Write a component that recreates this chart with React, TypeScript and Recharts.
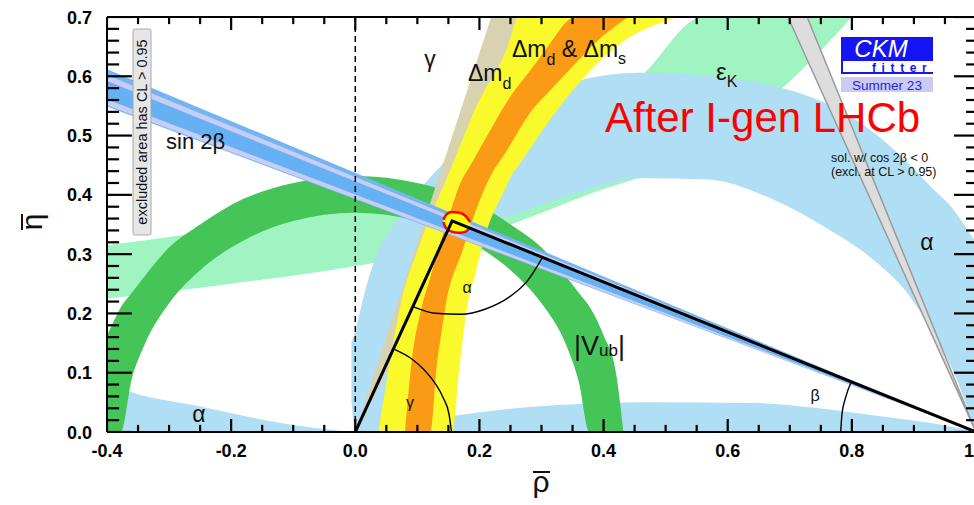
import { Area, ComposedChart, Line, ReferenceLine, XAxis, YAxis } from "recharts";

type Row = [number, number, number];
type Pt = [number, number];

// each band row: [rho, eta low, eta high]
const epsKBand: Row[] = [
  [-0.4, 0.225, 0.315],
  [-0.2, 0.25, 0.345],
  [0.0, 0.28, 0.385],
  [0.1, 0.3, 0.41],
  [0.2, 0.33, 0.45],
  [0.3, 0.37, 0.5],
  [0.4, 0.41, 0.555],
  [0.46, 0.43, 0.6],
  [0.56, 0.487, 0.7],
  [0.6, 0.51, 0.7],
  [0.684, 0.576, 0.7],
  [0.765, 0.66, 0.7],
  [0.8, 0.7, 0.7],
];

const alphaArc: Row[] = [
  [-0.006, 0.05, 0.15],
  [0.0, 0.0, 0.17],
  [0.015, 0.0, 0.235],
  [0.035, 0.0, 0.3],
  [0.05, 0.06, 0.33],
  [0.07, 0.14, 0.36],
  [0.1, 0.21, 0.405],
  [0.13, 0.27, 0.44],
  [0.2, 0.34, 0.51],
  [0.28, 0.375, 0.56],
  [0.35, 0.4, 0.59],
  [0.46, 0.428, 0.606],
  [0.567, 0.426, 0.601],
  [0.673, 0.392, 0.584],
  [0.754, 0.347, 0.556],
  [0.834, 0.291, 0.506],
  [0.889, 0.235, 0.455],
  [0.931, 0.167, 0.41],
  [0.96, 0.11, 0.38],
  [0.99, 0.03, 0.335],
  [1.0, 0.0, 0.32],
];

const alphaLow: Row[] = [
  [-0.4, 0, 0.085],
  [-0.38, 0, 0.075],
  [-0.25, 0, 0.043],
  [-0.1, 0, 0.012],
  [-0.03, 0, 0.003],
  [0.0, 0, 0],
  [0.05, 0, 0.01],
  [0.15, 0, 0.026],
  [0.28, 0, 0.042],
  [0.47, 0, 0.05],
  [0.64, 0, 0.049],
  [0.74, 0, 0.041],
  [0.85, 0, 0.026],
  [0.96, 0, 0.009],
  [1.0, 0, 0],
];

const vubRing: Row[] = [
  [-0.4, 0, 0.163],
  [-0.383, 0, 0.2],
  [-0.378, 0, 0.21],
  [-0.36, 0.09, 0.235],
  [-0.34, 0.146, 0.262],
  [-0.3, 0.217, 0.311],
  [-0.25, 0.273, 0.35],
  [-0.2, 0.311, 0.383],
  [-0.1, 0.356, 0.42],
  [0.0, 0.37, 0.432],
  [0.1, 0.356, 0.42],
  [0.2, 0.311, 0.383],
  [0.25, 0.273, 0.35],
  [0.3, 0.217, 0.311],
  [0.34, 0.146, 0.262],
  [0.36, 0.085, 0.235],
  [0.377, 0, 0.212],
  [0.4, 0, 0.163],
  [0.42, 0, 0.1],
  [0.432, 0, 0],
];

const gammaWedge: Row[] = [
  [0.0, 0, 0],
  [0.219, 0.438, 0.7],
  [0.35, 0.7, 0.7],
];

const dmdBand: Row[] = [
  [0.037, 0, 0],
  [0.056, 0, 0.12],
  [0.072, 0, 0.21],
  [0.105, 0, 0.32],
  [0.148, 0, 0.43],
  [0.156, 0, 0.45],
  [0.169, 0.12, 0.484],
  [0.18, 0.21, 0.512],
  [0.195, 0.273, 0.55],
  [0.206, 0.32, 0.572],
  [0.245, 0.418, 0.65],
  [0.25, 0.43, 0.665],
  [0.262, 0.448, 0.7],
  [0.33, 0.55, 0.7],
  [0.42, 0.65, 0.7],
  [0.52, 0.7, 0.7],
];

const dmdDmsBand: Row[] = [
  [0.08, 0, 0],
  [0.091, 0, 0.12],
  [0.107, 0, 0.21],
  [0.121, 0, 0.261],
  [0.132, 0.12, 0.302],
  [0.137, 0.155, 0.32],
  [0.145, 0.21, 0.344],
  [0.174, 0.31, 0.43],
  [0.177, 0.32, 0.435],
  [0.217, 0.43, 0.508],
  [0.24, 0.468, 0.55],
  [0.29, 0.55, 0.621],
  [0.31, 0.572, 0.65],
  [0.355, 0.622, 0.7],
  [0.38, 0.65, 0.7],
  [0.44, 0.7, 0.7],
];

const sin2bOuter: Row[] = [
  [-0.4, 0.549, 0.612],
  [1.0, 0, 0],
];
const sin2bStripe: Row[] = [
  [-0.4, 0.551, 0.602],
  [1.0, 0, 0],
];
const sin2bInner: Row[] = [
  [-0.4, 0.561, 0.592],
  [1.0, 0, 0],
];

const cos2bNegative: Row[] = [
  [0.697, 0.7, 0.7],
  [0.728, 0.628, 0.7],
  [1.0, 0, 0],
];

const fitRegion: Row[] = [
  [0.142, 0.354, 0.358],
  [0.146, 0.344, 0.366],
  [0.155, 0.338, 0.371],
  [0.168, 0.336, 0.37],
  [0.178, 0.338, 0.364],
  [0.185, 0.346, 0.354],
];

const triangle: Pt[] = [
  [0.0, 0.0],
  [0.156, 0.356],
  [1.0, 0.0],
];

const alphaAngle: Pt[] = [
  [0.094, 0.211],
  [0.1286, 0.2004],
  [0.1698, 0.1986],
  [0.21, 0.2075],
  [0.2466, 0.2266],
  [0.277, 0.2544],
  [0.301, 0.2933],
];

const gammaAngle: Pt[] = [
  [0.064, 0.139],
  [0.09, 0.124],
  [0.11, 0.106],
  [0.128, 0.083],
  [0.142, 0.057],
  [0.151, 0.03],
  [0.155, 0.0],
];

const betaAngle: Pt[] = [
  [0.782, 0.0],
  [0.7841, 0.0303],
  [0.7894, 0.0564],
  [0.7992, 0.0848],
];

const xMinor = [
  -0.35, -0.3, -0.25, -0.15, -0.1, -0.05, 0.05, 0.1, 0.15, 0.25, 0.3, 0.35, 0.45, 0.5, 0.55,
  0.65, 0.7, 0.75, 0.85, 0.9, 0.95,
];
const xMajor = [-0.4, -0.2, 0, 0.2, 0.4, 0.6, 0.8, 1.0];
const xMajorLabels = ["-0.4", "-0.2", "0.0", "0.2", "0.4", "0.6", "0.8", "1"];

const yMinor = [
  0.02, 0.04, 0.06, 0.08, 0.12, 0.14, 0.16, 0.18, 0.22, 0.24, 0.26, 0.28, 0.32, 0.34, 0.36,
  0.38, 0.42, 0.44, 0.46, 0.48, 0.52, 0.54, 0.56, 0.58, 0.62, 0.64, 0.66, 0.68,
];
const yMajor = [0, 0.1, 0.2, 0.3, 0.4, 0.5, 0.6, 0.7];
const yMajorLabels = ["0.0", "0.1", "0.2", "0.3", "0.4", "0.5", "0.6", "0.7"];

const X_MIN = -0.4;
const X_MAX = 1.0;
const Y_MIN = 0;
const Y_MAX = 0.7;

const toBand = (rows: Row[]) => rows.map(([x, lo, hi]) => ({ x, r: [lo, hi] }));
const toPts = (rows: Pt[]) => rows.map(([x, y]) => ({ x, y }));

// one two-point segment per frame tick, in axis units
// (vertical 13/7 px ~ 0.022/0.012; horizontal 25/12 px ~ 0.04/0.0195, right 22/10 px)
type Seg = { x: number; y: number }[];
const vSegs = (xs: number[], y0: number, len: number): Seg[] =>
  xs.map((x) => [
    { x, y: y0 },
    { x, y: y0 + len },
  ]);
const hSegs = (ys: number[], x0: number, len: number): Seg[] =>
  ys.map((y) => [
    { x: x0, y },
    { x: x0 + len, y },
  ]);
const frameTicks: Seg[] = [
  ...vSegs(xMajor, Y_MIN, 0.022),
  ...vSegs(xMinor, Y_MIN, 0.012),
  ...vSegs(xMajor, Y_MAX, -0.022),
  ...vSegs(xMinor, Y_MAX, -0.012),
  ...hSegs(yMajor, X_MIN, 0.04),
  ...hSegs(yMinor, X_MIN, 0.0195),
  ...hSegs(yMajor, X_MAX, -0.0355),
  ...hSegs(yMinor, X_MAX, -0.016),
];

const majorIndex = (v: number, majors: number[]) =>
  majors.findIndex((m) => Math.abs(m - v) < 1e-6);

const FONT = "'Liberation Sans', Arial, sans-serif";

function BottomLabel(props: any) {
  const { x, y, payload } = props;
  const i = majorIndex(payload.value, xMajor);
  if (i < 0) return <g />;
  const last = i === xMajor.length - 1;
  return (
    <text
      x={last ? x - 7 : x}
      y={y + 25}
      textAnchor="middle"
      fontSize={18}
      fontWeight="bold"
      fill="#000"
      fontFamily={FONT}
    >
      {xMajorLabels[i]}
    </text>
  );
}

function LeftLabel(props: any) {
  const { x, y, payload } = props;
  const i = majorIndex(payload.value, yMajor);
  if (i < 0) return <g />;
  return (
    <text x={x - 15} y={y + 6.5} textAnchor="end" fontSize={18} fontWeight="bold" fill="#000" fontFamily={FONT}>
      {yMajorLabels[i]}
    </text>
  );
}

function band(key: string, rows: Row[], fill: string, curve: "monotone" | "linear" = "monotone", stroke = "none", strokeWidth = 0) {
  return (
    <Area
      key={key}
      data={toBand(rows)}
      dataKey="r"
      type={curve}
      fill={fill}
      fillOpacity={1}
      stroke={stroke}
      strokeWidth={strokeWidth}
      isAnimationActive={false}
      dot={false}
      activeDot={false}
    />
  );
}

function Labels() {
  return (
    <svg
      width={974}
      height={505}
      style={{ position: "absolute", left: 0, top: 0, pointerEvents: "none" }}
      fontFamily={FONT}
    >
      <rect x={133} y={29} width={18} height={206} rx={2} fill="#e6e6e6" stroke="#a8a8a8" />
      <text transform="translate(147,132) rotate(-90)" textAnchor="middle" fontSize={14.5} fill="#111">
        excluded area has CL &gt; 0.95
      </text>

      <text x={430} y={67} textAnchor="middle" fontSize={23} fill="#111">γ</text>
      <text x={468} y={81} fontSize={23} fill="#111">
        Δm<tspan dy={8} fontSize={16}>d</tspan>
      </text>
      <text x={512} y={57} fontSize={23} fill="#111">
        Δm<tspan dy={8} fontSize={16}>d</tspan>
        <tspan dy={-8}> &amp; Δm</tspan>
        <tspan dy={7} fontSize={16}>s</tspan>
      </text>
      <text x={716} y={80} fontSize={24} fill="#111">
        ε<tspan dy={7} fontSize={16}>K</tspan>
      </text>
      <text x={166} y={149} fontSize={22} fill="#111">sin 2β</text>
      <text x={199} y={422} textAnchor="middle" fontSize={23} fill="#111">α</text>
      <text x={927} y={250} textAnchor="middle" fontSize={23} fill="#111">α</text>
      <text x={467} y={293} textAnchor="middle" fontSize={16} fill="#111">α</text>
      <text x={410} y={408} textAnchor="middle" fontSize={16} fill="#111">γ</text>
      <text x={815} y={401} textAnchor="middle" fontSize={16} fill="#111">β</text>
      <text x={574} y={355} fontSize={27} fill="#111">
        |V<tspan dy={1} fontSize={17}>ub</tspan>
        <tspan dy={-1} fontSize={27}>|</tspan>
      </text>

      <text x={605} y={132} fontSize={42} fill="#ff0000">After I-gen LHCb</text>

      <text x={831} y={162} fontSize={12.5} fill="#111">sol. w/ cos 2β &lt; 0</text>
      <text x={831} y={176} fontSize={12.5} fill="#111">(excl. at CL &gt; 0.95)</text>

      <rect x={841} y={37} width={92} height={24} fill="#1414f5" />
      <text x={881} y={57} textAnchor="middle" fontSize={24} fontStyle="italic" fill="#ffffff">CKM</text>
      <rect x={841} y={61} width={2} height={13} fill="#1414f5" />
      <rect x={841} y={72} width={92} height={2} fill="#1414f5" />
      <text x={872} y={71.5} fontSize={12} fontWeight="bold" letterSpacing={5.6} fill="#1414f5">fitter</text>
      <rect x={841} y={77} width={92} height={15} fill="#cbcbf2" />
      <text x={887} y={90} textAnchor="middle" fontSize={13.5} fill="#2323e6">Summer 23</text>

      <g transform="translate(34,222) rotate(-90)">
        <text x={0} y={8} textAnchor="middle" fontSize={30} fill="#111">η</text>
        <line x1={-8} x2={8} y1={-12} y2={-12} stroke="#111" strokeWidth={2} />
      </g>
      <text x={541} y={492} textAnchor="middle" fontSize={30} fill="#111">ρ</text>
      <line x1={533} x2={550} y1={472} y2={472} stroke="#111" strokeWidth={2} />
    </svg>
  );
}

export default function App() {
  return (
    <div
      style={{
        position: "absolute",
        left: 0,
        top: 0,
        width: 974,
        height: 505,
        overflow: "hidden",
        background: "#fff",
        fontFamily: FONT,
      }}
    >
      <ComposedChart width={980} height={505} margin={{ top: 16, right: 0, bottom: 43, left: 50 }}>
        <XAxis
          xAxisId={0}
          dataKey="x"
          type="number"
          domain={[X_MIN, X_MAX]}
          allowDataOverflow
          ticks={xMajor}
          interval={0}
          tickSize={0}
          tickMargin={0}
          tickLine={false}
          tick={BottomLabel}
          height={30}
          axisLine={{ stroke: "#000", strokeWidth: 2 }}
        />
        <XAxis
          xAxisId="top"
          orientation="top"
          dataKey="x"
          type="number"
          domain={[X_MIN, X_MAX]}
          allowDataOverflow
          tickLine={false}
          tick={false}
          height={1}
          axisLine={{ stroke: "#000", strokeWidth: 2 }}
        />
        <YAxis
          yAxisId={0}
          type="number"
          domain={[Y_MIN, Y_MAX]}
          allowDataOverflow
          ticks={yMajor}
          interval={0}
          tickSize={0}
          tickMargin={0}
          tickLine={false}
          tick={LeftLabel}
          width={57}
          axisLine={{ stroke: "#000", strokeWidth: 2 }}
        />
        <YAxis
          yAxisId="right"
          orientation="right"
          type="number"
          domain={[Y_MIN, Y_MAX]}
          allowDataOverflow
          tickLine={false}
          tick={false}
          width={4}
          axisLine={{ stroke: "#000", strokeWidth: 2 }}
        />

        {band("epsK", epsKBand, "#9ff4c2")}
        {band("alphaArc", alphaArc, "#b0def4")}
        {band("alphaLow", alphaLow, "#b0def4")}
        {band("vub", vubRing, "#45c457")}
        {band("gamma", gammaWedge, "#d8d2b0", "linear")}
        {band("dmd", dmdBand, "#f9f92c")}
        {band("dmdDms", dmdDmsBand, "#fb9a14")}
        {band("s2bOuter", sin2bOuter, "#72b5f2", "linear")}
        {band("s2bStripe", sin2bStripe, "#c8cdf6", "linear")}
        {band("s2bInner", sin2bInner, "#66b1f4", "linear")}
        {band("cos2b", cos2bNegative, "#dddddd", "linear", "#9a9a9a", 1.5)}
        {band("fit", fitRegion, "#ffff00", "monotone", "#ff0000", 2.5)}

        <ReferenceLine x={0} stroke="#000" strokeWidth={1.5} strokeDasharray="6 4" />

        <Line data={toPts(triangle)} dataKey="y" type="linear" stroke="#000" strokeWidth={3} dot={false} activeDot={false} isAnimationActive={false} />
        <Line data={toPts(alphaAngle)} dataKey="y" type="monotone" stroke="#000" strokeWidth={1.4} dot={false} activeDot={false} isAnimationActive={false} />
        <Line data={toPts(gammaAngle)} dataKey="y" type="monotone" stroke="#000" strokeWidth={1.4} dot={false} activeDot={false} isAnimationActive={false} />
        <Line data={toPts(betaAngle)} dataKey="y" type="monotone" stroke="#000" strokeWidth={1.4} dot={false} activeDot={false} isAnimationActive={false} />

        {frameTicks.map((seg, i) => (
          <Line
            key={`tick${i}`}
            data={seg}
            dataKey="y"
            type="linear"
            stroke="#000"
            strokeWidth={2.2}
            dot={false}
            activeDot={false}
            isAnimationActive={false}
          />
        ))}
      </ComposedChart>
      <Labels />
    </div>
  );
}
